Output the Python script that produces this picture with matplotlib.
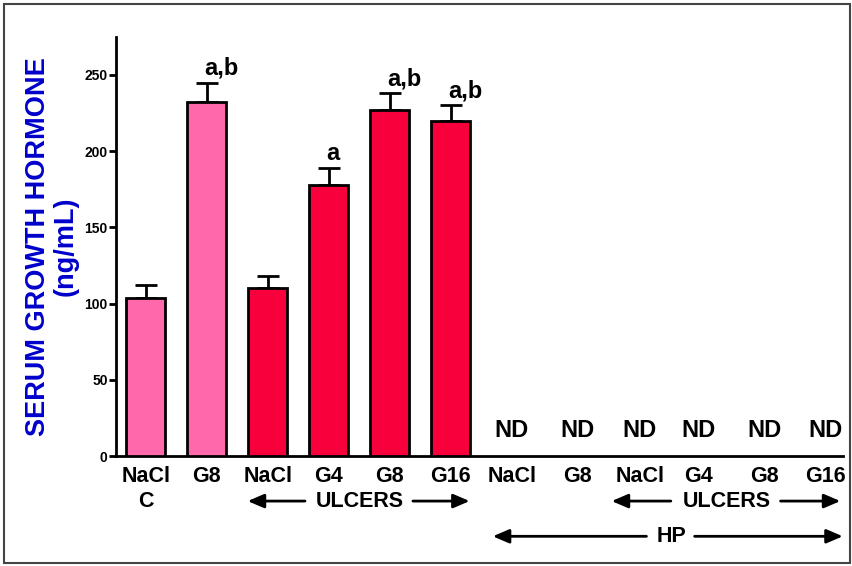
import numpy as np
import matplotlib.pyplot as plt
from matplotlib.patches import Rectangle

plt.rcParams['font.family'] = ['Liberation Sans', 'DejaVu Sans']
plt.rcParams['font.weight'] = 'bold'

# data
labels = ["NaCl", "G8", "NaCl", "G4", "G8", "G16",
          "NaCl", "G8", "NaCl", "G4", "G8", "G16"]
means = [104, 232, 110, 178, 227, 220]
errors = [8, 13, 8, 11, 11, 10]
sig = ["", "a,b", "", "a", "a,b", "a,b"]
bar_colors = ["#FF69AB", "#FF69AB", "#F7003B", "#F7003B", "#F7003B", "#F7003B"]

fig = plt.figure(figsize=(8.53, 5.66), dpi=100)
ax = fig.add_axes([0.136, 0.194, 0.852, 0.741])

x = np.arange(len(means))
ax.bar(x, means, width=0.64, color=bar_colors, edgecolor="black", linewidth=2, zorder=3)
ax.errorbar(x, means, yerr=[np.zeros(len(errors)), errors], fmt="none",
            ecolor="black", elinewidth=2, capsize=8, capthick=2, zorder=2)

for i, s in enumerate(sig):
    if s:
        ax.text(i - 0.04, means[i] + errors[i] + 5, s, ha="left", va="baseline",
                fontsize=17, fontweight="bold")

# label positions for the HP group (hand placed as in the figure)
xpos = list(range(6)) + [6.0, 7.08, 8.1, 9.06, 10.14, 11.14]
for xi in xpos[6:]:
    ax.text(xi, 12.5, "ND", ha="center", va="baseline", fontsize=17, fontweight="bold")

ax.set_xlim(-0.49, 11.43)
ax.set_ylim(0, 275)
ax.set_yticks([0, 50, 100, 150, 200, 250])
ax.tick_params(axis="y", labelsize=10, width=2, length=5, pad=1)
for t in ax.get_yticklabels():
    t.set_fontweight("bold")
ax.set_xticks([])
ax.spines["top"].set_visible(False)
ax.spines["right"].set_visible(False)
ax.spines["left"].set_linewidth(2)
ax.spines["bottom"].set_linewidth(2)

ax.set_ylabel("SERUM GROWTH HORMONE\n(ng/mL)", color="#0000CC", fontsize=19.5,
              fontweight="bold", labelpad=4, linespacing=1.1)

# category labels under axis
tr = ax.get_xaxis_transform()
for xi, lab in zip(xpos, labels):
    ax.text(xi, -0.048, lab, transform=tr, ha="center", va="center", fontsize=15.5,
            fontweight="bold", clip_on=False)
ax.text(0, -0.107, "C", transform=tr, ha="center", va="center", fontsize=15.5,
        fontweight="bold", clip_on=False)


def span(x0, x1, xl, xr, xt, y, text):
    ax.text(xt, y, text, transform=tr, ha="center", va="center", fontsize=15.5,
            fontweight="bold", clip_on=False)
    for a, b in [(xl, x0), (xr, x1)]:
        ax.annotate("", xy=(b, y), xytext=(a, y), xycoords=tr, textcoords=tr,
                    arrowprops=dict(arrowstyle="-|>,head_length=0.7,head_width=0.3",
                                    color="black", lw=2, mutation_scale=14,
                                    shrinkA=0, shrinkB=0))


span(1.67, 5.31, 2.61, 4.38, 3.51, -0.107, "ULCERS")
span(7.64, 11.39, 8.61, 10.41, 9.52, -0.107, "ULCERS")
span(5.69, 11.43, 8.21, 9.0, 8.62, -0.191, "HP")

fig.patches.append(Rectangle((0.005, 0.005), 0.992, 0.988, transform=fig.transFigure,
                             fill=False, edgecolor="#444444", linewidth=1.5))

fig.savefig("out.png", dpi=100)
